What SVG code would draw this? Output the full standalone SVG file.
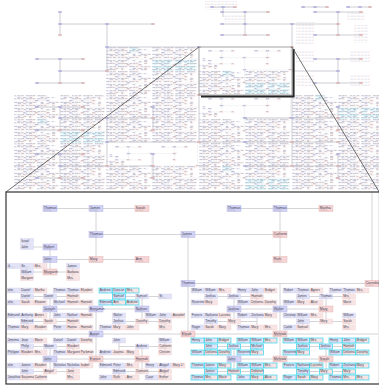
<svg xmlns="http://www.w3.org/2000/svg" xmlns:xlink="http://www.w3.org/1999/xlink" width="379" height="389" viewBox="0 0 379 389">
<defs>
<style>
.m rect{fill:url(#pm);stroke:#c6c6ea;stroke-width:.3}
.f rect{fill:url(#pf);stroke:#eac6c6;stroke-width:.3}
.M rect{fill:url(#pM);stroke:#a9a9df;stroke-width:.4}
.F rect{fill:url(#pF);stroke:#dfa9a9;stroke-width:.4}
.c rect{stroke:currentColor;stroke-width:.7}
text{font-family:"Liberation Sans",Arial,sans-serif;fill:#3c3c50}
.m text,.f text{font-size:3.2px}
.M text,.F text{font-size:3.5px}
.ln{fill:none;stroke:#c9c9cf;vector-effect:non-scaling-stroke}
.ol{fill:none;stroke:#c2c2ca;stroke-width:.8}
.om{fill:#b0b0de}
.of{fill:#dcb2b2}
</style>
<pattern id="pm" width="1" height="1" patternContentUnits="objectBoundingBox"><rect width="1" height="1" fill="#e3e3f8"/><rect x=".06" y=".74" width=".55" height=".1" fill="#bcbcd2"/></pattern>
<pattern id="pf" width="1" height="1" patternContentUnits="objectBoundingBox"><rect width="1" height="1" fill="#f8e4e4"/><rect x=".06" y=".74" width=".55" height=".1" fill="#d2bcbc"/></pattern>
<pattern id="pM" width="1" height="1" patternContentUnits="objectBoundingBox"><rect width="1" height="1" fill="#d3d3f5"/><rect x=".06" y=".74" width=".55" height=".1" fill="#a8a8c8"/></pattern>
<pattern id="pF" width="1" height="1" patternContentUnits="objectBoundingBox"><rect width="1" height="1" fill="#f5d5d5"/><rect x=".06" y=".74" width=".55" height=".1" fill="#c8a8a8"/></pattern>
<pattern id="tx" width="7" height="3" patternUnits="userSpaceOnUse"><rect x=".4" y=".6" width="3" height="1.3" fill="#e2e2f2"/><rect x="3.8" y=".6" width="2.8" height="1.3" fill="#f2e2e2"/></pattern>
<rect id="dm" x="-1.75" y="-.8" width="3.5" height="1.6" class="om"/>
<rect id="df" x="-1.75" y="-.8" width="3.5" height="1.6" class="of"/>
<filter id="sh" x="-20%" y="-20%" width="140%" height="140%"><feGaussianBlur stdDeviation=".6"/></filter>
<clipPath id="ic"><rect x="6.6" y="192.6" width="372.4" height="190.8"/></clipPath>

<g id="upper">
<g id="upper-connectors">
<path class="ln" d="M50 208.5H142M96 208.5V259.5M96 234.5H280M50 259.5H142M50 247V272M27 247H50M27 241V247M27 272H73M27 266V278M73 266V278M13.5 266H40.5M234 208.5H326M280 208.5V259.5M188 234.5V334M188 283.5H372M372 192V283.5M280 283.5V309"/>
</g>
<g id="u1" class="M"><rect x="43" y="205.5" width="14" height="6"/><text x="43.8" y="209.1">Thomas</text></g>
<g id="u2" class="M"><rect x="89" y="205.5" width="14" height="6"/><text x="89.8" y="209.1">James</text></g>
<g id="u3" class="F"><rect x="135" y="205.5" width="14" height="6"/><text x="135.8" y="209.1">Sarah</text></g>
<g id="u4" class="M"><rect x="227" y="205.5" width="14" height="6"/><text x="227.8" y="209.1">Thomas</text></g>
<g id="u5" class="M"><rect x="273" y="205.5" width="14" height="6"/><text x="273.8" y="209.1">Thomas</text></g>
<g id="u6" class="F"><rect x="319" y="205.5" width="14" height="6"/><text x="319.8" y="209.1">Martha</text></g>
<g id="u7" class="M"><rect x="89" y="231.5" width="14" height="6"/><text x="89.8" y="235.1">Thomas</text></g>
<g id="u8" class="M"><rect x="181" y="231.5" width="14" height="6"/><text x="181.8" y="235.1">James</text></g>
<g id="u9" class="F"><rect x="273" y="231.5" width="14" height="6"/><text x="273.8" y="235.1">Catherin</text></g>
<g id="u10" class="M"><rect x="43" y="256.5" width="14" height="6"/><text x="43.8" y="260.1">John</text></g>
<g id="u11" class="F"><rect x="89" y="256.5" width="14" height="6"/><text x="89.8" y="260.1">Mary</text></g>
<g id="u12" class="F"><rect x="135" y="256.5" width="14" height="6"/><text x="135.8" y="260.1">Ann</text></g>
<g id="u13" class="F"><rect x="273" y="256.5" width="14" height="6"/><text x="273.8" y="260.1">Ruth</text></g>
<g id="u14" class="M"><rect x="181" y="280.5" width="14" height="6"/><text x="181.8" y="284.1">Thomas</text></g>
<g id="u15" class="F"><rect x="365" y="280.5" width="14" height="6"/><text x="365.8" y="284.1">Cornelia</text></g>
<g id="u16" class="m"><rect x="20.5" y="238.5" width="13" height="5"/><text x="21.2" y="241.8">Israel</text></g>
<g id="u17" class="m"><rect x="20.5" y="244.5" width="13" height="5"/><text x="21.2" y="247.8">John</text></g>
<g id="u18" class="M"><rect x="43" y="244" width="14" height="6"/><text x="43.8" y="247.6">Robert</text></g>
<g id="u19" class="F"><rect x="43" y="269" width="14" height="6"/><text x="43.8" y="272.6">Margaret</text></g>
<g id="u20" class="m"><rect x="7" y="263.5" width="13" height="5"/><text x="7.7" y="266.8">Jr</text></g>
<g id="u21" class="m"><rect x="20.5" y="263.5" width="13" height="5"/><text x="21.2" y="266.8">Sir</text></g>
<g id="u22" class="f"><rect x="34" y="263.5" width="13" height="5"/><text x="34.7" y="266.8">Mrs.</text></g>
<g id="u23" class="m"><rect x="20.5" y="269.5" width="13" height="5"/><text x="21.2" y="272.8">William</text></g>
<g id="u24" class="f"><rect x="20.5" y="275.5" width="13" height="5"/><text x="21.2" y="278.8">Margare</text></g>
<g id="u25" class="m"><rect x="66.5" y="263.5" width="13" height="5"/><text x="67.2" y="266.8">James</text></g>
<g id="u26" class="f"><rect x="66.5" y="269.5" width="13" height="5"/><text x="67.2" y="272.8">Barbara</text></g>
<g id="u27" class="f"><rect x="66.5" y="275.5" width="13" height="5"/><text x="67.2" y="278.8">Mrs.</text></g>
</g>

<g id="dense">
<g id="dense-connectors">
<path class="ln" d="M13.5 290.5H40.5M13.5 302.5H40.5M27 290.5V302.5M59.5 290.5H86.5M59.5 302.5H86.5M73 290.5V302.5M27 296.5H73M105.5 290.5H132.5M105.5 302.5H132.5M119 290.5V302.5M119 296.5H165M197.5 290.5H224.5M197.5 302.5H211M211 290.5V302.5M243.5 290.5H270.5M243.5 302.5H270.5M257 290.5V302.5M211 296.5H257M289.5 290.5H316.5M289.5 302.5H316.5M303 290.5V302.5M335.5 290.5H362.5M349 290.5V302.5M303 296.5H349"/>
<path class="ln" d="M13.5 315.5H40.5M13.5 327.5H40.5M27 315.5V327.5M59.5 315.5H86.5M59.5 327.5H86.5M73 315.5V327.5M27 321.5H73M105.5 327.5H132.5M119 315.5V327.5M151.5 315.5H178.5M165 315.5V327.5M119 321.5H165M197.5 315.5H224.5M197.5 327.5H224.5M211 315.5V327.5M243.5 315.5H270.5M243.5 327.5H270.5M257 315.5V327.5M211 321.5H257M289.5 315.5H316.5M289.5 327.5H303M303 315.5V327.5M349 315.5V327.5M303 321.5H349"/>
<path class="ln" d="M50 296.5V321.5M142 296.5V321.5M234 296.5V321.5M326 296.5V321.5M50 309H142M234 309H326M96 309V359M280 309V359M6 334H378M50 359H142M234 359H326M50 346.5V371.5M142 346.5V371.5M234 346.5V371.5M326 346.5V371.5"/>
<path class="ln" d="M13.5 340.5H40.5M13.5 352.5H40.5M27 340.5V352.5M59.5 340.5H86.5M59.5 352.5H86.5M73 340.5V352.5M27 346.5H73M105.5 352.5H132.5M119 340.5V352.5M165 340.5V352.5M119 346.5H165M197.5 340.5H224.5M197.5 352.5H224.5M211 340.5V352.5M243.5 340.5H270.5M243.5 352.5H257M257 340.5V352.5M211 346.5H257M289.5 340.5H316.5M289.5 352.5H303M303 340.5V352.5M335.5 340.5H362.5M335.5 352.5H362.5M349 340.5V352.5M303 346.5H349"/>
<path class="ln" d="M13.5 365.5H40.5M13.5 377.5H40.5M27 365.5V377.5M59.5 365.5H86.5M73 365.5V377.5M27 371.5H73M105.5 365.5H132.5M105.5 377.5H132.5M119 365.5V377.5M151.5 365.5H178.5M151.5 377.5H165M165 365.5V377.5M119 371.5H165M197.5 365.5H224.5M197.5 377.5H224.5M211 365.5V377.5M243.5 365.5H270.5M243.5 377.5H270.5M257 365.5V377.5M211 371.5H257M289.5 365.5H316.5M289.5 377.5H316.5M303 365.5V377.5M335.5 365.5H362.5M335.5 377.5H362.5M349 365.5V377.5M303 371.5H349"/>
</g>
<g id="d1" class="m"><rect x="7" y="288" width="13" height="5"/><text x="7.7" y="291.3">ohn</text></g>
<g id="d2" class="m"><rect x="20.5" y="288" width="13" height="5"/><text x="21.2" y="291.3">Daniel</text></g>
<g id="d3" class="f"><rect x="34" y="288" width="13" height="5"/><text x="34.7" y="291.3">Martha</text></g>
<g id="d4" class="m"><rect x="20.5" y="294" width="13" height="5"/><text x="21.2" y="297.3">Daniel</text></g>
<g id="d5" class="m"><rect x="7" y="300" width="13" height="5"/><text x="7.7" y="303.3">ohn</text></g>
<g id="d6" class="f"><rect x="20.5" y="300" width="13" height="5"/><text x="21.2" y="303.3">Sarah</text></g>
<g id="d7" class="f"><rect x="34" y="300" width="13" height="5"/><text x="34.7" y="303.3">Eleanor</text></g>
<g id="d8" class="m"><rect x="53" y="288" width="13" height="5"/><text x="53.7" y="291.3">Thomas</text></g>
<g id="d9" class="m"><rect x="66.5" y="288" width="13" height="5"/><text x="67.2" y="291.3">Thomas</text></g>
<g id="d10" class="f"><rect x="80" y="288" width="13" height="5"/><text x="80.7" y="291.3">Elizabet</text></g>
<g id="d11" class="f"><rect x="66.5" y="294" width="13" height="5"/><text x="67.2" y="297.3">Hannah</text></g>
<g id="d12" class="m"><rect x="53" y="300" width="13" height="5"/><text x="53.7" y="303.3">Michael</text></g>
<g id="d13" class="f"><rect x="66.5" y="300" width="13" height="5"/><text x="67.2" y="303.3">Hannah</text></g>
<g id="d14" class="f"><rect x="80" y="300" width="13" height="5"/><text x="80.7" y="303.3">Hannah</text></g>
<g id="d15" class="m"><rect x="43.5" y="294" width="13" height="5"/><text x="44.2" y="297.3">Daniel</text></g>
<g id="d16" class="m c"><rect x="99" y="288" width="13" height="5"/><text x="99.7" y="291.3">Andrew</text></g>
<g id="d17" class="m c"><rect x="112.5" y="288" width="13" height="5"/><text x="113.2" y="291.3">Duncan</text></g>
<g id="d18" class="f c"><rect x="126" y="288" width="13" height="5"/><text x="126.7" y="291.3">Mrs.</text></g>
<g id="d19" class="m c"><rect x="112.5" y="294" width="13" height="5"/><text x="113.2" y="297.3">Samuel</text></g>
<g id="d20" class="m c"><rect x="99" y="300" width="13" height="5"/><text x="99.7" y="303.3">Edmund</text></g>
<g id="d21" class="f c"><rect x="112.5" y="300" width="13" height="5"/><text x="113.2" y="303.3">Ann</text></g>
<g id="d22" class="f c"><rect x="126" y="300" width="13" height="5"/><text x="126.7" y="303.3">Andrew</text></g>
<g id="d23" class="m"><rect x="135.5" y="294" width="13" height="5"/><text x="136.2" y="297.3">Samuel</text></g>
<g id="d24" class="m"><rect x="158.5" y="294" width="13" height="5"/><text x="159.2" y="297.3">Sr.</text></g>
<g id="d25" class="M"><rect x="43" y="306" width="14" height="6"/><text x="43.8" y="309.6">Joseph</text></g>
<g id="d26" class="M"><rect x="89" y="306" width="14" height="6"/><text x="89.8" y="309.6">Benjamin</text></g>
<g id="d27" class="M"><rect x="135" y="306" width="14" height="6"/><text x="135.8" y="309.6">Nathan</text></g>
<g id="d28" class="m"><rect x="7" y="313" width="13" height="5"/><text x="7.7" y="316.3">Edmund</text></g>
<g id="d29" class="m"><rect x="20.5" y="313" width="13" height="5"/><text x="21.2" y="316.3">Anthony</text></g>
<g id="d30" class="f"><rect x="34" y="313" width="13" height="5"/><text x="34.7" y="316.3">Annes</text></g>
<g id="d31" class="m"><rect x="20.5" y="319" width="13" height="5"/><text x="21.2" y="322.3">Edmund</text></g>
<g id="d32" class="m"><rect x="7" y="325" width="13" height="5"/><text x="7.7" y="328.3">Thomas</text></g>
<g id="d33" class="f"><rect x="20.5" y="325" width="13" height="5"/><text x="21.2" y="328.3">Mary</text></g>
<g id="d34" class="f"><rect x="34" y="325" width="13" height="5"/><text x="34.7" y="328.3">Elizabet</text></g>
<g id="d35" class="m"><rect x="53" y="313" width="13" height="5"/><text x="53.7" y="316.3">John</text></g>
<g id="d36" class="m"><rect x="66.5" y="313" width="13" height="5"/><text x="67.2" y="316.3">Nathan</text></g>
<g id="d37" class="f"><rect x="80" y="313" width="13" height="5"/><text x="80.7" y="316.3">Hannah</text></g>
<g id="d38" class="f"><rect x="66.5" y="319" width="13" height="5"/><text x="67.2" y="322.3">Hannah</text></g>
<g id="d39" class="m"><rect x="53" y="325" width="13" height="5"/><text x="53.7" y="328.3">Peter</text></g>
<g id="d40" class="f"><rect x="66.5" y="325" width="13" height="5"/><text x="67.2" y="328.3">Hanna</text></g>
<g id="d41" class="f"><rect x="80" y="325" width="13" height="5"/><text x="80.7" y="328.3">Hannah</text></g>
<g id="d42" class="f"><rect x="43.5" y="319" width="13" height="5"/><text x="44.2" y="322.3">Sarah</text></g>
<g id="d43" class="m"><rect x="112.5" y="313" width="13" height="5"/><text x="113.2" y="316.3">Walter</text></g>
<g id="d44" class="m"><rect x="112.5" y="319" width="13" height="5"/><text x="113.2" y="322.3">Joshua</text></g>
<g id="d45" class="m"><rect x="99" y="325" width="13" height="5"/><text x="99.7" y="328.3">Thomas</text></g>
<g id="d46" class="f"><rect x="112.5" y="325" width="13" height="5"/><text x="113.2" y="328.3">Mary</text></g>
<g id="d47" class="f"><rect x="126" y="325" width="13" height="5"/><text x="126.7" y="328.3">John</text></g>
<g id="d48" class="f"><rect x="135.5" y="319" width="13" height="5"/><text x="136.2" y="322.3">Dorothy</text></g>
<g id="d49" class="m"><rect x="145" y="313" width="13" height="5"/><text x="145.7" y="316.3">William</text></g>
<g id="d50" class="m"><rect x="158.5" y="313" width="13" height="5"/><text x="159.2" y="316.3">John</text></g>
<g id="d51" class="f"><rect x="172" y="313" width="13" height="5"/><text x="172.7" y="316.3">Annabel</text></g>
<g id="d52" class="f"><rect x="158.5" y="319" width="13" height="5"/><text x="159.2" y="322.3">Dorothy</text></g>
<g id="d53" class="f"><rect x="158.5" y="325" width="13" height="5"/><text x="159.2" y="328.3">Mrs.</text></g>
<g id="d54" class="M"><rect x="89" y="331" width="14" height="6"/><text x="89.8" y="334.6">Aaron</text></g>
<g id="d55" class="F"><rect x="181" y="331" width="14" height="6"/><text x="181.8" y="334.6">Elizab</text></g>
<g id="d56" class="F"><rect x="273" y="331" width="14" height="6"/><text x="273.8" y="334.6">Mehitab</text></g>
<g id="d57" class="m"><rect x="7" y="338" width="13" height="5"/><text x="7.7" y="341.3">Jemima</text></g>
<g id="d58" class="m"><rect x="20.5" y="338" width="13" height="5"/><text x="21.2" y="341.3">Jean</text></g>
<g id="d59" class="f"><rect x="34" y="338" width="13" height="5"/><text x="34.7" y="341.3">Marie</text></g>
<g id="d60" class="m"><rect x="20.5" y="344" width="13" height="5"/><text x="21.2" y="347.3">Philip</text></g>
<g id="d61" class="m"><rect x="7" y="350" width="13" height="5"/><text x="7.7" y="353.3">Philippe</text></g>
<g id="d62" class="f"><rect x="20.5" y="350" width="13" height="5"/><text x="21.2" y="353.3">Elizabet</text></g>
<g id="d63" class="f"><rect x="34" y="350" width="13" height="5"/><text x="34.7" y="353.3">Mrs.</text></g>
<g id="d64" class="m"><rect x="53" y="338" width="13" height="5"/><text x="53.7" y="341.3">Daniel</text></g>
<g id="d65" class="m"><rect x="66.5" y="338" width="13" height="5"/><text x="67.2" y="341.3">Daniel</text></g>
<g id="d66" class="f"><rect x="80" y="338" width="13" height="5"/><text x="80.7" y="341.3">Dorothy</text></g>
<g id="d67" class="f"><rect x="66.5" y="344" width="13" height="5"/><text x="67.2" y="347.3">Elizabet</text></g>
<g id="d68" class="m"><rect x="53" y="350" width="13" height="5"/><text x="53.7" y="353.3">Thomas</text></g>
<g id="d69" class="f"><rect x="66.5" y="350" width="13" height="5"/><text x="67.2" y="353.3">Margaret</text></g>
<g id="d70" class="f"><rect x="80" y="350" width="13" height="5"/><text x="80.7" y="353.3">Parkman</text></g>
<g id="d71" class="m"><rect x="43.5" y="344" width="13" height="5"/><text x="44.2" y="347.3">Mason</text></g>
<g id="d72" class="m"><rect x="112.5" y="338" width="13" height="5"/><text x="113.2" y="341.3">John</text></g>
<g id="d73" class="m"><rect x="99" y="350" width="13" height="5"/><text x="99.7" y="353.3">Andrew</text></g>
<g id="d74" class="f"><rect x="112.5" y="350" width="13" height="5"/><text x="113.2" y="353.3">Joanna</text></g>
<g id="d75" class="f"><rect x="126" y="350" width="13" height="5"/><text x="126.7" y="353.3">Mary</text></g>
<g id="d76" class="m"><rect x="135.5" y="344" width="13" height="5"/><text x="136.2" y="347.3">Andrew</text></g>
<g id="d77" class="m"><rect x="158.5" y="338" width="13" height="5"/><text x="159.2" y="341.3">William</text></g>
<g id="d78" class="f"><rect x="158.5" y="344" width="13" height="5"/><text x="159.2" y="347.3">Catherin</text></g>
<g id="d79" class="f"><rect x="158.5" y="350" width="13" height="5"/><text x="159.2" y="353.3">Christin</text></g>
<g id="d80" class="M"><rect x="43" y="356" width="14" height="6"/><text x="43.8" y="359.6">John</text></g>
<g id="d81" class="F"><rect x="89" y="356" width="14" height="6"/><text x="89.8" y="359.6">Eunice</text></g>
<g id="d82" class="F"><rect x="135" y="356" width="14" height="6"/><text x="135.8" y="359.6">Hannah</text></g>
<g id="d83" class="m"><rect x="7" y="363" width="13" height="5"/><text x="7.7" y="366.3">ohn</text></g>
<g id="d84" class="m"><rect x="20.5" y="363" width="13" height="5"/><text x="21.2" y="366.3">James</text></g>
<g id="d85" class="f"><rect x="34" y="363" width="13" height="5"/><text x="34.7" y="366.3">Elizabet</text></g>
<g id="d86" class="m"><rect x="20.5" y="369" width="13" height="5"/><text x="21.2" y="372.3">John</text></g>
<g id="d87" class="m"><rect x="7" y="375" width="13" height="5"/><text x="7.7" y="378.3">Jonathan</text></g>
<g id="d88" class="f"><rect x="20.5" y="375" width="13" height="5"/><text x="21.2" y="378.3">Susanna</text></g>
<g id="d89" class="f"><rect x="34" y="375" width="13" height="5"/><text x="34.7" y="378.3">Catherin</text></g>
<g id="d90" class="m"><rect x="53" y="363" width="13" height="5"/><text x="53.7" y="366.3">Nicholas</text></g>
<g id="d91" class="m"><rect x="66.5" y="363" width="13" height="5"/><text x="67.2" y="366.3">Nicholas</text></g>
<g id="d92" class="f"><rect x="80" y="363" width="13" height="5"/><text x="80.7" y="366.3">Isabel</text></g>
<g id="d93" class="f"><rect x="66.5" y="369" width="13" height="5"/><text x="67.2" y="372.3">Jane</text></g>
<g id="d94" class="f"><rect x="66.5" y="375" width="13" height="5"/><text x="67.2" y="378.3">Mrs.</text></g>
<g id="d95" class="f"><rect x="43.5" y="369" width="13" height="5"/><text x="44.2" y="372.3">Abigail</text></g>
<g id="d96" class="m"><rect x="99" y="363" width="13" height="5"/><text x="99.7" y="366.3">Edmund</text></g>
<g id="d97" class="m"><rect x="112.5" y="363" width="13" height="5"/><text x="113.2" y="366.3">Peter</text></g>
<g id="d98" class="f"><rect x="126" y="363" width="13" height="5"/><text x="126.7" y="366.3">Mrs.</text></g>
<g id="d99" class="m"><rect x="112.5" y="369" width="13" height="5"/><text x="113.2" y="372.3">Edmund</text></g>
<g id="d100" class="m"><rect x="99" y="375" width="13" height="5"/><text x="99.7" y="378.3">John</text></g>
<g id="d101" class="f"><rect x="112.5" y="375" width="13" height="5"/><text x="113.2" y="378.3">Ruth</text></g>
<g id="d102" class="f"><rect x="126" y="375" width="13" height="5"/><text x="126.7" y="378.3">Ann</text></g>
<g id="d103" class="m"><rect x="145" y="363" width="13" height="5"/><text x="145.7" y="366.3">Henry</text></g>
<g id="d104" class="m"><rect x="158.5" y="363" width="13" height="5"/><text x="159.2" y="366.3">Abigail</text></g>
<g id="d105" class="f"><rect x="172" y="363" width="13" height="5"/><text x="172.7" y="366.3">Mary L/</text></g>
<g id="d106" class="f"><rect x="158.5" y="369" width="13" height="5"/><text x="159.2" y="372.3">Abigail</text></g>
<g id="d107" class="m"><rect x="145" y="375" width="13" height="5"/><text x="145.7" y="378.3">Cuan</text></g>
<g id="d108" class="f"><rect x="158.5" y="375" width="13" height="5"/><text x="159.2" y="378.3">Esther</text></g>
<g id="d109" class="f"><rect x="135.5" y="369" width="13" height="5"/><text x="136.2" y="372.3">Damaris</text></g>
<g id="d110" class="m"><rect x="191" y="288" width="13" height="5"/><text x="191.7" y="291.3">William</text></g>
<g id="d111" class="m"><rect x="204.5" y="288" width="13" height="5"/><text x="205.2" y="291.3">William</text></g>
<g id="d112" class="f"><rect x="218" y="288" width="13" height="5"/><text x="218.7" y="291.3">Mrs.</text></g>
<g id="d113" class="m"><rect x="204.5" y="294" width="13" height="5"/><text x="205.2" y="297.3">Joshua</text></g>
<g id="d114" class="m"><rect x="191" y="300" width="13" height="5"/><text x="191.7" y="303.3">Reverend</text></g>
<g id="d115" class="f"><rect x="204.5" y="300" width="13" height="5"/><text x="205.2" y="303.3">Mary</text></g>
<g id="d116" class="m"><rect x="237" y="288" width="13" height="5"/><text x="237.7" y="291.3">Henry</text></g>
<g id="d117" class="m"><rect x="250.5" y="288" width="13" height="5"/><text x="251.2" y="291.3">John</text></g>
<g id="d118" class="f"><rect x="264" y="288" width="13" height="5"/><text x="264.7" y="291.3">Bridget</text></g>
<g id="d119" class="f"><rect x="250.5" y="294" width="13" height="5"/><text x="251.2" y="297.3">Hannah</text></g>
<g id="d120" class="m"><rect x="237" y="300" width="13" height="5"/><text x="237.7" y="303.3">William</text></g>
<g id="d121" class="f"><rect x="250.5" y="300" width="13" height="5"/><text x="251.2" y="303.3">Delivera</text></g>
<g id="d122" class="f"><rect x="264" y="300" width="13" height="5"/><text x="264.7" y="303.3">Dorothy</text></g>
<g id="d123" class="m"><rect x="227.5" y="294" width="13" height="5"/><text x="228.2" y="297.3">Joshua</text></g>
<g id="d124" class="m"><rect x="283" y="288" width="13" height="5"/><text x="283.7" y="291.3">Robert</text></g>
<g id="d125" class="m"><rect x="296.5" y="288" width="13" height="5"/><text x="297.2" y="291.3">Thomas</text></g>
<g id="d126" class="f"><rect x="310" y="288" width="13" height="5"/><text x="310.7" y="291.3">Agnes</text></g>
<g id="d127" class="m"><rect x="296.5" y="294" width="13" height="5"/><text x="297.2" y="297.3">James</text></g>
<g id="d128" class="m"><rect x="283" y="300" width="13" height="5"/><text x="283.7" y="303.3">William</text></g>
<g id="d129" class="f"><rect x="296.5" y="300" width="13" height="5"/><text x="297.2" y="303.3">Mary</text></g>
<g id="d130" class="f"><rect x="310" y="300" width="13" height="5"/><text x="310.7" y="303.3">Alice</text></g>
<g id="d131" class="m"><rect x="329" y="288" width="13" height="5"/><text x="329.7" y="291.3">Thomas</text></g>
<g id="d132" class="m"><rect x="342.5" y="288" width="13" height="5"/><text x="343.2" y="291.3">Thomas</text></g>
<g id="d133" class="f"><rect x="356" y="288" width="13" height="5"/><text x="356.7" y="291.3">Mrs.</text></g>
<g id="d134" class="f"><rect x="342.5" y="294" width="13" height="5"/><text x="343.2" y="297.3">Mrs.</text></g>
<g id="d135" class="f"><rect x="342.5" y="300" width="13" height="5"/><text x="343.2" y="303.3">Marie</text></g>
<g id="d136" class="m"><rect x="319.5" y="294" width="13" height="5"/><text x="320.2" y="297.3">Thomas</text></g>
<g id="d137" class="M"><rect x="227" y="306" width="14" height="6"/><text x="227.8" y="309.6">Joshua</text></g>
<g id="d138" class="M"><rect x="273" y="306" width="14" height="6"/><text x="273.8" y="309.6">Walter</text></g>
<g id="d139" class="F"><rect x="319" y="306" width="14" height="6"/><text x="319.8" y="309.6">Mary</text></g>
<g id="d140" class="m"><rect x="191" y="313" width="13" height="5"/><text x="191.7" y="316.3">Francis</text></g>
<g id="d141" class="m"><rect x="204.5" y="313" width="13" height="5"/><text x="205.2" y="316.3">Nathanie</text></g>
<g id="d142" class="f"><rect x="218" y="313" width="13" height="5"/><text x="218.7" y="316.3">Lucretia</text></g>
<g id="d143" class="m"><rect x="204.5" y="319" width="13" height="5"/><text x="205.2" y="322.3">Timothy</text></g>
<g id="d144" class="m"><rect x="191" y="325" width="13" height="5"/><text x="191.7" y="328.3">Roger</text></g>
<g id="d145" class="f"><rect x="204.5" y="325" width="13" height="5"/><text x="205.2" y="328.3">Sarah</text></g>
<g id="d146" class="f"><rect x="218" y="325" width="13" height="5"/><text x="218.7" y="328.3">Mary</text></g>
<g id="d147" class="m"><rect x="237" y="313" width="13" height="5"/><text x="237.7" y="316.3">Robert</text></g>
<g id="d148" class="m"><rect x="250.5" y="313" width="13" height="5"/><text x="251.2" y="316.3">Zecharia</text></g>
<g id="d149" class="f"><rect x="264" y="313" width="13" height="5"/><text x="264.7" y="316.3">Mary</text></g>
<g id="d150" class="m"><rect x="237" y="325" width="13" height="5"/><text x="237.7" y="328.3">Thomas</text></g>
<g id="d151" class="f"><rect x="250.5" y="325" width="13" height="5"/><text x="251.2" y="328.3">Mary</text></g>
<g id="d152" class="f"><rect x="264" y="325" width="13" height="5"/><text x="264.7" y="328.3">Mrs.</text></g>
<g id="d153" class="f"><rect x="227.5" y="319" width="13" height="5"/><text x="228.2" y="322.3">Mary</text></g>
<g id="d154" class="m"><rect x="283" y="313" width="13" height="5"/><text x="283.7" y="316.3">Christop</text></g>
<g id="d155" class="m"><rect x="296.5" y="313" width="13" height="5"/><text x="297.2" y="316.3">William</text></g>
<g id="d156" class="f"><rect x="310" y="313" width="13" height="5"/><text x="310.7" y="316.3">Mrs.</text></g>
<g id="d157" class="m"><rect x="296.5" y="319" width="13" height="5"/><text x="297.2" y="322.3">John</text></g>
<g id="d158" class="m"><rect x="283" y="325" width="13" height="5"/><text x="283.7" y="328.3">Caleb</text></g>
<g id="d159" class="f"><rect x="296.5" y="325" width="13" height="5"/><text x="297.2" y="328.3">Samuel</text></g>
<g id="d160" class="m"><rect x="342.5" y="313" width="13" height="5"/><text x="343.2" y="316.3">William</text></g>
<g id="d161" class="f"><rect x="342.5" y="319" width="13" height="5"/><text x="343.2" y="322.3">Sarah</text></g>
<g id="d162" class="f"><rect x="342.5" y="325" width="13" height="5"/><text x="343.2" y="328.3">Mrs.</text></g>
<g id="d163" class="f"><rect x="319.5" y="319" width="13" height="5"/><text x="320.2" y="322.3">Mary</text></g>
<g id="d164" class="m c"><rect x="191" y="338" width="13" height="5"/><text x="191.7" y="341.3">Henry</text></g>
<g id="d165" class="m c"><rect x="204.5" y="338" width="13" height="5"/><text x="205.2" y="341.3">John</text></g>
<g id="d166" class="f c"><rect x="218" y="338" width="13" height="5"/><text x="218.7" y="341.3">Bridget</text></g>
<g id="d167" class="m c"><rect x="204.5" y="344" width="13" height="5"/><text x="205.2" y="347.3">John</text></g>
<g id="d168" class="m c"><rect x="191" y="350" width="13" height="5"/><text x="191.7" y="353.3">William</text></g>
<g id="d169" class="f c"><rect x="204.5" y="350" width="13" height="5"/><text x="205.2" y="353.3">Delivera</text></g>
<g id="d170" class="f c"><rect x="218" y="350" width="13" height="5"/><text x="218.7" y="353.3">Dorothy</text></g>
<g id="d171" class="m c"><rect x="237" y="338" width="13" height="5"/><text x="237.7" y="341.3">William</text></g>
<g id="d172" class="m c"><rect x="250.5" y="338" width="13" height="5"/><text x="251.2" y="341.3">William</text></g>
<g id="d173" class="f c"><rect x="264" y="338" width="13" height="5"/><text x="264.7" y="341.3">Mrs.</text></g>
<g id="d174" class="m c"><rect x="250.5" y="344" width="13" height="5"/><text x="251.2" y="347.3">Michael</text></g>
<g id="d175" class="m c"><rect x="237" y="350" width="13" height="5"/><text x="237.7" y="353.3">Reverend</text></g>
<g id="d176" class="f c"><rect x="250.5" y="350" width="13" height="5"/><text x="251.2" y="353.3">Mary</text></g>
<g id="d177" class="m c"><rect x="227.5" y="344" width="13" height="5"/><text x="228.2" y="347.3">Joshua</text></g>
<g id="d178" class="m c"><rect x="283" y="338" width="13" height="5"/><text x="283.7" y="341.3">William</text></g>
<g id="d179" class="m c"><rect x="296.5" y="338" width="13" height="5"/><text x="297.2" y="341.3">William</text></g>
<g id="d180" class="f c"><rect x="310" y="338" width="13" height="5"/><text x="310.7" y="341.3">Mrs.</text></g>
<g id="d181" class="m c"><rect x="296.5" y="344" width="13" height="5"/><text x="297.2" y="347.3">Joshua</text></g>
<g id="d182" class="m c"><rect x="283" y="350" width="13" height="5"/><text x="283.7" y="353.3">Reverend</text></g>
<g id="d183" class="f c"><rect x="296.5" y="350" width="13" height="5"/><text x="297.2" y="353.3">Mary</text></g>
<g id="d184" class="m c"><rect x="329" y="338" width="13" height="5"/><text x="329.7" y="341.3">Henry</text></g>
<g id="d185" class="m c"><rect x="342.5" y="338" width="13" height="5"/><text x="343.2" y="341.3">John</text></g>
<g id="d186" class="f c"><rect x="356" y="338" width="13" height="5"/><text x="356.7" y="341.3">Bridget</text></g>
<g id="d187" class="f c"><rect x="342.5" y="344" width="13" height="5"/><text x="343.2" y="347.3">Hannah</text></g>
<g id="d188" class="m c"><rect x="329" y="350" width="13" height="5"/><text x="329.7" y="353.3">William</text></g>
<g id="d189" class="f c"><rect x="342.5" y="350" width="13" height="5"/><text x="343.2" y="353.3">Delivera</text></g>
<g id="d190" class="f c"><rect x="356" y="350" width="13" height="5"/><text x="356.7" y="353.3">Dorothy</text></g>
<g id="d191" class="m c"><rect x="319.5" y="344" width="13" height="5"/><text x="320.2" y="347.3">Joshua</text></g>
<g id="d192" class="M"><rect x="227" y="356" width="14" height="6"/><text x="227.8" y="359.6">John</text></g>
<g id="d193" class="F"><rect x="273" y="356" width="14" height="6"/><text x="273.8" y="359.6">Mehitab</text></g>
<g id="d194" class="F"><rect x="319" y="356" width="14" height="6"/><text x="319.8" y="359.6">Sarah</text></g>
<g id="d195" class="m c"><rect x="191" y="363" width="13" height="5"/><text x="191.7" y="366.3">Thomas</text></g>
<g id="d196" class="m c"><rect x="204.5" y="363" width="13" height="5"/><text x="205.2" y="366.3">James</text></g>
<g id="d197" class="f c"><rect x="218" y="363" width="13" height="5"/><text x="218.7" y="366.3">Mary</text></g>
<g id="d198" class="m c"><rect x="204.5" y="369" width="13" height="5"/><text x="205.2" y="372.3">James</text></g>
<g id="d199" class="m c"><rect x="191" y="375" width="13" height="5"/><text x="191.7" y="378.3">Thomas</text></g>
<g id="d200" class="f c"><rect x="204.5" y="375" width="13" height="5"/><text x="205.2" y="378.3">Mrs.</text></g>
<g id="d201" class="f c"><rect x="218" y="375" width="13" height="5"/><text x="218.7" y="378.3">Marie</text></g>
<g id="d202" class="m c"><rect x="237" y="363" width="13" height="5"/><text x="237.7" y="366.3">William</text></g>
<g id="d203" class="m c"><rect x="250.5" y="363" width="13" height="5"/><text x="251.2" y="366.3">William</text></g>
<g id="d204" class="f c"><rect x="264" y="363" width="13" height="5"/><text x="264.7" y="366.3">Mrs.</text></g>
<g id="d205" class="f c"><rect x="250.5" y="369" width="13" height="5"/><text x="251.2" y="372.3">Deborah</text></g>
<g id="d206" class="m c"><rect x="237" y="375" width="13" height="5"/><text x="237.7" y="378.3">John</text></g>
<g id="d207" class="f c"><rect x="250.5" y="375" width="13" height="5"/><text x="251.2" y="378.3">Mary</text></g>
<g id="d208" class="f c"><rect x="264" y="375" width="13" height="5"/><text x="264.7" y="378.3">Alice</text></g>
<g id="d209" class="f c"><rect x="227.5" y="369" width="13" height="5"/><text x="228.2" y="372.3">Hannah</text></g>
<g id="d210" class="m c"><rect x="283" y="363" width="13" height="5"/><text x="283.7" y="366.3">Francis</text></g>
<g id="d211" class="m c"><rect x="296.5" y="363" width="13" height="5"/><text x="297.2" y="366.3">Nathanie</text></g>
<g id="d212" class="f c"><rect x="310" y="363" width="13" height="5"/><text x="310.7" y="366.3">Lucretia</text></g>
<g id="d213" class="m c"><rect x="296.5" y="369" width="13" height="5"/><text x="297.2" y="372.3">Timothy</text></g>
<g id="d214" class="m c"><rect x="283" y="375" width="13" height="5"/><text x="283.7" y="378.3">Roger</text></g>
<g id="d215" class="f c"><rect x="296.5" y="375" width="13" height="5"/><text x="297.2" y="378.3">Sarah</text></g>
<g id="d216" class="f c"><rect x="310" y="375" width="13" height="5"/><text x="310.7" y="378.3">Mary</text></g>
<g id="d217" class="m c"><rect x="329" y="363" width="13" height="5"/><text x="329.7" y="366.3">Robert</text></g>
<g id="d218" class="m c"><rect x="342.5" y="363" width="13" height="5"/><text x="343.2" y="366.3">Zecharia</text></g>
<g id="d219" class="f c"><rect x="356" y="363" width="13" height="5"/><text x="356.7" y="366.3">Mary</text></g>
<g id="d220" class="f c"><rect x="342.5" y="369" width="13" height="5"/><text x="343.2" y="372.3">Mary</text></g>
<g id="d221" class="m c"><rect x="329" y="375" width="13" height="5"/><text x="329.7" y="378.3">Thomas</text></g>
<g id="d222" class="f c"><rect x="342.5" y="375" width="13" height="5"/><text x="343.2" y="378.3">Mrs.</text></g>
<g id="d223" class="f c"><rect x="356" y="375" width="13" height="5"/><text x="356.7" y="378.3">Mrs.</text></g>
<g id="d224" class="f c"><rect x="319.5" y="369" width="13" height="5"/><text x="320.2" y="372.3">Mary</text></g>
</g>
</defs>

<rect width="379" height="389" fill="#fff"/>

<g id="overview">
<g id="overview-clusters" opacity=".8">
<rect x="205" y="1" width="32" height="9" fill="url(#tx)"/>
<rect x="224" y="14" width="21" height="8" fill="url(#tx)"/>
<rect x="296" y="22" width="18" height="22" fill="url(#tx)"/>
<rect x="347" y="12" width="18" height="9" fill="url(#tx)"/>
<rect x="354" y="25" width="14" height="18" fill="url(#tx)"/>
<rect x="296" y="50" width="18" height="12" fill="url(#tx)"/>
<rect x="296" y="75" width="18" height="12" fill="url(#tx)"/>
<rect x="350" y="50" width="20" height="12" fill="url(#tx)"/>
<rect x="350" y="75" width="20" height="12" fill="url(#tx)"/>
</g>
<g id="overview-blocks" stroke-width=".4" opacity=".6" color="#d4d4ea">
<use href="#dense" color="#33d6ee" transform="translate(106 47) scale(.25) translate(-6 -286)"/>
<use href="#dense" transform="translate(106 71) scale(.25) translate(-6 -286)"/>
<use href="#dense" transform="translate(14 95) scale(.25) translate(-6 -286)"/>
<use href="#dense" transform="translate(106 95) scale(.25) translate(-6 -286)"/>
<use href="#dense" color="#33d6ee" transform="translate(14 119) scale(.25) translate(-6 -286)"/>
<use href="#dense" transform="translate(106 119) scale(.25) translate(-6 -286)"/>
<use href="#dense" transform="translate(14 143) scale(.25) translate(-6 -286)"/>
<use href="#dense" transform="translate(14 166) scale(.25) translate(-6 -286)"/>
<use href="#upper" transform="translate(106 143) scale(.25) translate(-6 -192)"/>
<use href="#dense" transform="translate(106 166) scale(.25) translate(-6 -286)"/>
<use href="#upper" transform="translate(199 95) scale(.25) translate(-6 -192)"/>
<use href="#dense" transform="translate(199 119) scale(.25) translate(-6 -286)"/>
<use href="#dense" transform="translate(199 143) scale(.25) translate(-6 -286)"/>
<use href="#dense" color="#33d6ee" transform="translate(199 166) scale(.25) translate(-6 -286)"/>
<use href="#dense" color="#33d6ee" transform="translate(292 95) scale(.25) translate(-6 -286)"/>
<use href="#dense" transform="translate(292 119) scale(.25) translate(-6 -286)"/>
<use href="#dense" transform="translate(292 143) scale(.25) translate(-6 -286)"/>
<use href="#dense" transform="translate(292 166) scale(.25) translate(-6 -286)"/>
<use href="#upper" transform="translate(199 47) scale(.25) translate(-6 -192)"/>
<use href="#dense" color="#33d6ee" transform="translate(199 47) scale(.25) translate(-6 -192)"/>
</g>
<g id="overview-connectors">
<path class="ol" d="M60 12V35M60 24H153M107 24V71M107 47H199M60 71H107M60 59V83M37 59H83M37 83H83M199 95V142M107 142H338M107 118V166M60 118H153M60 107V130M153 107V130M37 107H83M37 130H83M60 166H153M60 154V178M153 154V178M37 154H83M37 178H83M292 24V47M292 95V166M222 24H338M245 12V35M338 12V35M222 12H268M222 35H268M315 12H361M315 35H361M292 71H338M338 59V83M315 59H361M315 83H361M245 118H338M338 107V130M245 166H338M338 154V178M212 7H235M223 7V17M303 7H327M348 7H370"/>
</g>
<g id="overview-nodes">
<use href="#dm" x="60" y="12"/><use href="#dm" x="60" y="24"/><use href="#df" x="60" y="35"/><use href="#dm" x="107" y="24"/><use href="#df" x="153" y="24"/>
<use href="#dm" x="107" y="47"/><use href="#df" x="107" y="71"/><use href="#dm" x="60" y="71"/><use href="#dm" x="60" y="59"/><use href="#df" x="60" y="83"/>
<use href="#dm" x="37" y="59"/><use href="#df" x="83" y="59"/><use href="#dm" x="37" y="83"/><use href="#df" x="83" y="83"/>
<use href="#dm" x="199" y="47"/><use href="#df" x="292" y="47"/><use href="#df" x="199" y="95"/><use href="#df" x="199" y="142"/>
<use href="#dm" x="107" y="142"/><use href="#df" x="292" y="142"/><use href="#dm" x="107" y="118"/><use href="#dm" x="60" y="118"/><use href="#df" x="153" y="118"/><use href="#df" x="107" y="166"/>
<use href="#dm" x="60" y="107"/><use href="#df" x="60" y="130"/><use href="#dm" x="153" y="107"/><use href="#df" x="153" y="130"/>
<use href="#dm" x="37" y="107"/><use href="#df" x="83" y="107"/><use href="#dm" x="37" y="130"/><use href="#df" x="83" y="130"/>
<use href="#dm" x="60" y="166"/><use href="#df" x="153" y="166"/><use href="#dm" x="60" y="154"/><use href="#df" x="60" y="178"/><use href="#dm" x="153" y="154"/><use href="#df" x="153" y="178"/>
<use href="#dm" x="37" y="154"/><use href="#df" x="83" y="154"/><use href="#dm" x="37" y="178"/><use href="#df" x="83" y="178"/>
<use href="#dm" x="292" y="24"/><use href="#dm" x="245" y="24"/><use href="#df" x="338" y="24"/><use href="#dm" x="222" y="24"/>
<use href="#dm" x="245" y="12"/><use href="#df" x="245" y="35"/><use href="#dm" x="338" y="12"/><use href="#df" x="338" y="35"/>
<use href="#dm" x="222" y="12"/><use href="#df" x="268" y="12"/><use href="#dm" x="222" y="35"/><use href="#df" x="268" y="35"/>
<use href="#dm" x="315" y="12"/><use href="#df" x="361" y="12"/><use href="#dm" x="315" y="35"/><use href="#df" x="361" y="35"/>
<use href="#dm" x="338" y="71"/><use href="#dm" x="338" y="59"/><use href="#df" x="338" y="83"/><use href="#dm" x="315" y="59"/><use href="#df" x="361" y="59"/><use href="#dm" x="315" y="83"/><use href="#df" x="361" y="83"/>
<use href="#dm" x="292" y="118"/><use href="#dm" x="245" y="118"/><use href="#df" x="338" y="118"/><use href="#dm" x="338" y="107"/><use href="#df" x="338" y="130"/>
<use href="#df" x="292" y="166"/><use href="#dm" x="245" y="166"/><use href="#df" x="338" y="166"/><use href="#dm" x="338" y="154"/><use href="#df" x="338" y="178"/>
<use href="#dm" x="245" y="142"/><use href="#df" x="338" y="142"/>
<use href="#dm" x="212" y="7"/><use href="#dm" x="223" y="7"/><use href="#df" x="235" y="7"/><use href="#dm" x="303" y="7"/><use href="#dm" x="315" y="7"/><use href="#df" x="327" y="7"/><use href="#dm" x="348" y="7"/><use href="#dm" x="360" y="7"/><use href="#df" x="370" y="7"/>
</g>
</g>

<g id="zoom-frame">
<rect x="199" y="47" width="93" height="48" fill="none" stroke="#8c8c8c" stroke-width=".8"/>
<path d="M293.6 49V96.6H201" fill="none" stroke="#262626" stroke-width="2" filter="url(#sh)"/>
<path d="M199 47L6 192M292 47L379.5 192.5" fill="none" stroke="#4d4d4d" stroke-width=".8"/>
</g>

<g id="inset">
<rect x="6" y="192" width="373.5" height="192" fill="#fff"/>
<g clip-path="url(#ic)" stroke-width=".8" color="#33d6ee">
<use href="#upper"/>
<use href="#dense"/>
</g>
<rect x="6" y="192" width="373.5" height="192" fill="none" stroke="#333" stroke-width="1.2"/>
</g>
</svg>
